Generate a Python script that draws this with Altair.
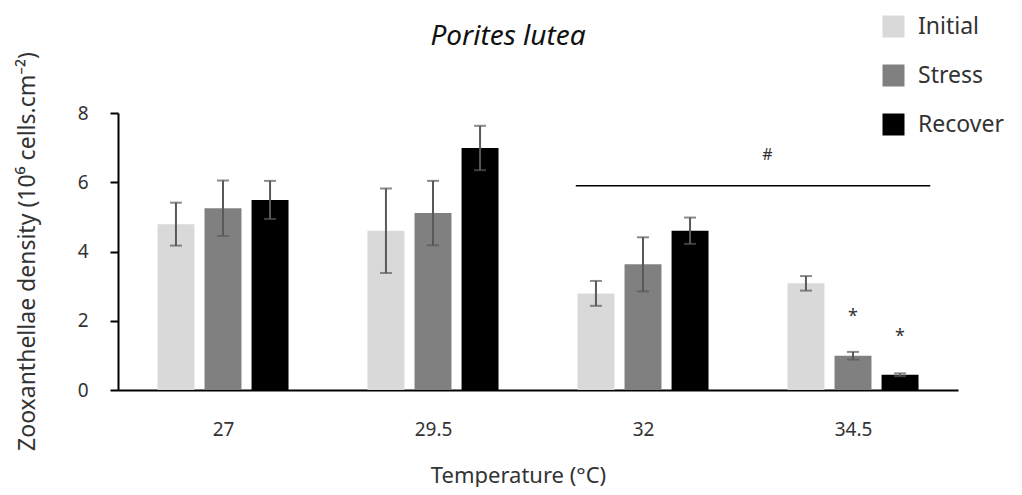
import altair as alt
import pandas as pd

temps = [27, 29.5, 32, 34.5]
series = ["Initial", "Stress", "Recover"]
initial = [4.79, 4.60, 2.79, 3.08]
initial_err = [0.62, 1.22, 0.36, 0.21]
stress = [5.25, 5.11, 3.63, 0.99]
stress_err = [0.80, 0.93, 0.78, 0.11]
recover = [5.49, 6.99, 4.60, 0.44]
recover_err = [0.55, 0.64, 0.38, 0.04]
colors = ["#d9d9d9", "#808080", "#000000"]

# annotations (data coordinates)
sig_line = {"x": 31.20, "x2": 35.42, "y": 5.90}
hash_mark = {"x": 33.48, "y": 6.79, "text": "#"}
stars_x = [34.5, 34.5]
stars_series = ["Stress", "Recover"]
stars_y = [2.10, 1.52]

group_step = 0.56
half_w = 0.22

rows = []
for si, (name, vals, errs) in enumerate(zip(series, [initial, stress, recover],
                                             [initial_err, stress_err, recover_err])):
    for t, v, e in zip(temps, vals, errs):
        pos = t + (si - 1) * group_step
        rows.append({"Temperature": t, "Series": name, "value": v, "err": e,
                     "pos": pos, "x0": pos - half_w, "x1": pos + half_w,
                     "lo": v - e, "hi": v + e})
df = pd.DataFrame(rows)

star_rows = []
for t, s, y in zip(stars_x, stars_series, stars_y):
    si = series.index(s)
    star_rows.append({"pos": t + (si - 1) * group_step, "y": y, "text": "*"})
star_df = pd.DataFrame(star_rows)

FONT = "Noto Sans"
TXT = "#333333"

xscale = alt.Scale(domain=[25.75, 35.75], nice=False, zero=False)
yscale = alt.Scale(domain=[0, 8], nice=False)

base = alt.Chart(df)

bars = base.mark_bar().encode(
    x=alt.X("x0:Q", scale=xscale,
            axis=alt.Axis(values=temps, format="~g", title="Temperature (°C)",
                          grid=False, ticks=False, domainColor="black",
                          domainWidth=2, labelFont=FONT, labelFontSize=19,
                          labelColor=TXT, labelPadding=30, titleFont=FONT,
                          titleFontSize=22, titleFontWeight="normal",
                          titleColor=TXT, titleX=400, titleY=75,
                          titleAlign="center", titleBaseline="top")),
    x2="x1:Q",
    y=alt.Y("value:Q", scale=yscale,
            axis=alt.Axis(values=[0, 2, 4, 6, 8], grid=False,
                          title="Zooxanthellae density (10⁶ cells.cm⁻²)",
                          tickSize=8, tickColor="black", tickWidth=2,
                          domainColor="black", domainWidth=2,
                          labelFont=FONT, labelFontSize=19, labelColor=TXT,
                          labelPadding=22, titleFont=FONT, titleFontSize=23,
                          titleFontWeight="normal", titleColor=TXT,
                          titleX=-91, titleY=138, titleAngle=270,
                          titleAlign="center", titleBaseline="middle")),
    y2=alt.datum(0),
    color=alt.Color("Series:N", scale=alt.Scale(domain=series, range=colors),
                    legend=alt.Legend(title=None, orient="none", legendX=764,
                                      legendY=-98, symbolType="square",
                                      symbolSize=484, symbolStrokeWidth=0,
                                      labelFont=FONT, labelFontSize=23,
                                      labelColor=TXT, rowPadding=25,
                                      labelOffset=13)),
)

err_rule = base.mark_rule(color="#595959", strokeWidth=2).encode(
    x=alt.X("pos:Q", scale=xscale), y=alt.Y("lo:Q", scale=yscale), y2="hi:Q")
cap_lo = base.mark_tick(color="#595959", orient="horizontal", size=12,
                        thickness=2).encode(
    x=alt.X("pos:Q", scale=xscale), y=alt.Y("lo:Q", scale=yscale))
cap_hi = base.mark_tick(color="#595959", orient="horizontal", size=12,
                        thickness=2).encode(
    x=alt.X("pos:Q", scale=xscale), y=alt.Y("hi:Q", scale=yscale))

line_df = pd.DataFrame([sig_line])
sig = alt.Chart(line_df).mark_rule(color="black", strokeWidth=1.5).encode(
    x=alt.X("x:Q", scale=xscale), x2="x2:Q", y=alt.Y("y:Q", scale=yscale))

hash_df = pd.DataFrame([hash_mark])
hash_txt = alt.Chart(hash_df).mark_text(font=FONT, fontSize=16, color=TXT,
                                        baseline="middle").encode(
    x=alt.X("x:Q", scale=xscale), y=alt.Y("y:Q", scale=yscale), text="text:N")

stars = alt.Chart(star_df).mark_text(font=FONT, fontSize=18, color=TXT,
                                     baseline="middle").encode(
    x=alt.X("pos:Q", scale=xscale), y=alt.Y("y:Q", scale=yscale), text="text:N")

chart = alt.layer(bars, err_rule, cap_lo, cap_hi, sig, hash_txt, stars).properties(
    width=840, height=277,
    title=alt.TitleParams("Porites lutea", font=FONT, fontSize=28,
                          fontStyle="italic", fontWeight="normal", color="#111111",
                          anchor="middle", dx=-30, offset=-36),
    autosize=alt.AutoSizeParams(type="none"),
    padding={"left": 110, "top": 105, "right": 56, "bottom": 97},
).configure_view(stroke=None)

chart.save("out.html", embed_options={"renderer": "svg", "actions": False})
